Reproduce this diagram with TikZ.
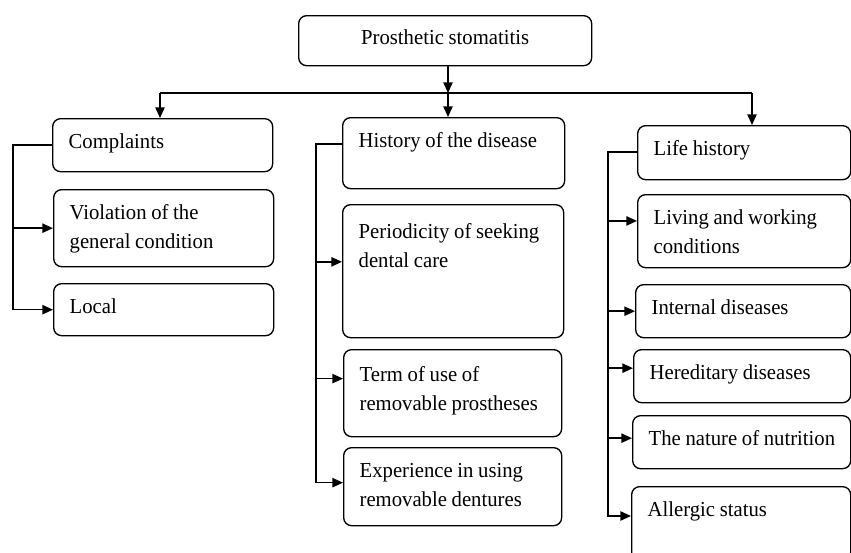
\documentclass[tikz,border=0pt]{standalone}
\usepackage{fontspec}
\setmainfont{Liberation Serif}[FakeStretch=0.97]
\usetikzlibrary{arrows.meta}
\tikzset{
  box/.style={draw, line width=1pt, rounded corners=6pt, anchor=north west, align=left,
    inner xsep=12pt, inner ysep=0pt, text height=22pt, font=\fontsize{16}{21.75}\selectfont,
    execute at begin node={\spaceskip=.22em\relax}},
  link/.style={line width=1.1pt},
}
\begin{document}
\begin{tikzpicture}[x=.75pt, y=-.75pt, >={Triangle[length=8pt,width=7pt]}]
\useasboundingbox (0,0) rectangle (851,553);
% root
\node[box, align=center, text width=195.75pt, text depth=15.5pt] (root) at (298,15) {Prosthetic stomatitis};
% left column
\node[box, text width=141pt, text depth=17.75pt] (compl) at (52,118) {Complaints};
\node[box, text width=141pt, text depth=35.75pt] (viol) at (53,189) {Violation of the\\general condition};
\node[box, text width=141pt, text depth=17pt] (local) at (53,283) {Local};
% middle column
\node[box, text width=142.5pt, text depth=31.25pt] (hist) at (342,117) {History of the disease};
\node[box, text width=141.75pt, text height=25pt, text depth=74.75pt] (perio) at (342,204) {Periodicity of seeking\\dental care};
\node[box, text width=139.5pt, text height=24pt, text depth=41.25pt] (term) at (343,349) {Term of use of\\removable prostheses};
\node[box, text width=139.5pt, text depth=36.5pt] (exper) at (343,447) {Experience in using\\removable dentures};
% right column
\node[box, text width=135.75pt, text depth=18.5pt] (life) at (637,125) {Life history};
\node[box, text width=135.75pt, text depth=32.75pt] (living) at (637,194) {Living and working\\conditions};
\node[box, text width=137.25pt, text depth=17.75pt] (intern) at (635,284) {Internal diseases};
\node[box, text width=138.75pt, text depth=17.75pt] (hered) at (633,349) {Hereditary diseases};
\node[box, text width=139.5pt, text depth=17.75pt] (nutr) at (632,415) {\mbox{The nature of nutrition}};
\node[box, text width=140.25pt, text depth=33.5pt] (allerg) at (631,486) {Allergic status};

% top connectors
\coordinate (hub) at (448,93);
\coordinate (lbr) at (160,93);
\coordinate (rbr) at (752,93);
\draw[link,->] (root.south -| hub) -- (hub);
\draw[link] (lbr) -- (rbr);
\draw[link,->] (hub) -- (hist.north -| hub);
\draw[link,->] (lbr) -- (compl.north -| lbr);
\draw[link,->] (rbr) -- (life.north -| rbr);

% left bus
\coordinate (lbus) at (13,0);
\draw[link,->] (compl.west) -- (compl.west -| lbus) |- (local.west);
\draw[link,->] (viol.west -| lbus) -- (viol.west);

% middle bus
\coordinate (mbus) at (316,0);
\coordinate (perioin) at ([yshift=7pt]perio.west);
\coordinate (experin) at ([yshift=3pt]exper.west);
\draw[link,->] (hist.mid west) -- (hist.mid west -| mbus) |- (experin);
\draw[link,->] (perioin -| mbus) -- (perioin);
\draw[link,->] (term.mid west -| mbus) -- (term.mid west);

% right bus
\coordinate (rbus) at (608,0);
\coordinate (heredin) at ([yshift=6pt]hered.west);
\coordinate (nutrin) at ([yshift=3pt]nutr.west);
\draw[link,->] (life.mid west) -- (life.mid west -| rbus) |- (allerg.base west);
\draw[link,->] (living.mid west -| rbus) -- (living.mid west);
\draw[link,->] (intern.west -| rbus) -- (intern.west);
\draw[link,->] (heredin -| rbus) -- (heredin);
\draw[link,->] (nutrin -| rbus) -- (nutrin);
\end{tikzpicture}
\end{document}
